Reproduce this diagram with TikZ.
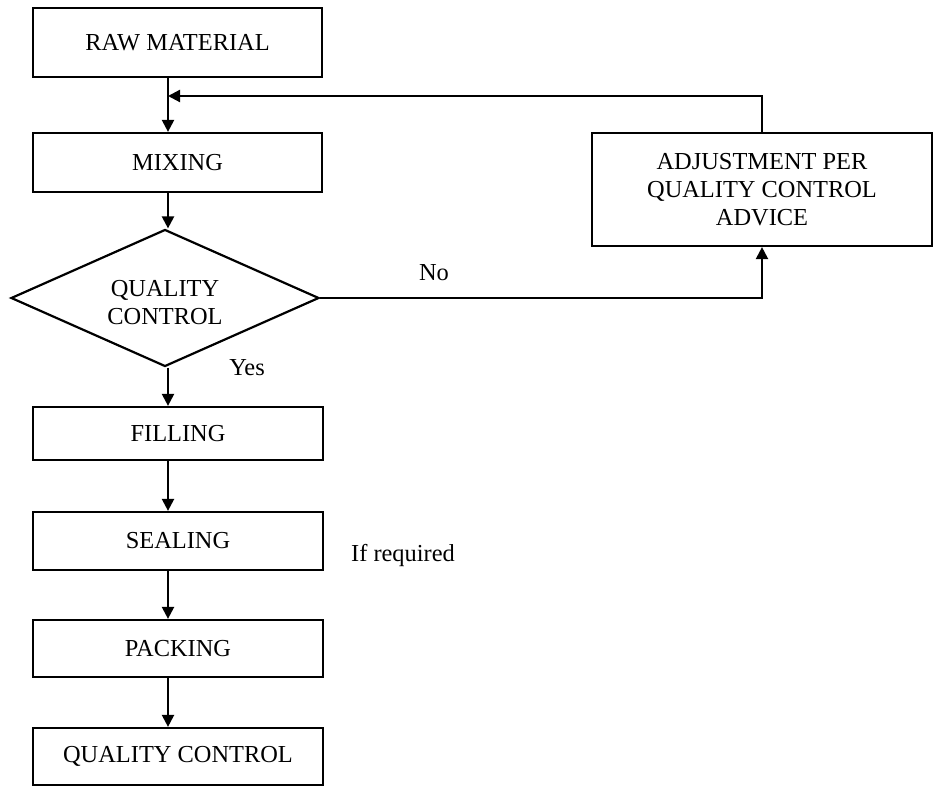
\documentclass[tikz,border=0pt]{standalone}
\usepackage{fontspec}
\setmainfont{Liberation Serif}
\usetikzlibrary{arrows.meta,shapes.geometric}
\begin{document}
\begin{tikzpicture}[x=0.5pt,y=-0.5pt,
  font=\fontsize{12.2}{14}\selectfont,
  line width=1.1pt,
  stepbox/.style={draw,rectangle,inner sep=0pt,align=center},
  decision/.style={draw,diamond,inner sep=0pt},
  arr/.style={-{Triangle[length=6pt,width=6pt]}},
  lbl/.style={inner sep=0pt,align=center}]
\useasboundingbox (0,0) rectangle (937,786);

% main column of process steps
\node[stepbox,minimum width=144.5pt,minimum height=34.5pt] (raw) at (177.5,42.5) {RAW MATERIAL};
\node[stepbox,minimum width=144.5pt,minimum height=29.5pt] (mix) at (177.5,162.5) {MIXING};
\node[decision,minimum width=154pt,minimum height=68.5pt] (qc1) at (165,298) {};
\node[lbl] (qc1text) at (165,303) {QUALITY\\CONTROL};
\node[stepbox,minimum width=145pt,minimum height=26.5pt] (fill) at (178,433.5) {FILLING};
\node[stepbox,minimum width=145pt,minimum height=29pt] (seal) at (178,541) {SEALING};
\node[stepbox,minimum width=145pt,minimum height=28.5pt] (pack) at (178,648.5) {PACKING};
\node[stepbox,minimum width=145pt,minimum height=28.5pt] (qc2) at (178,756.5) {QUALITY CONTROL};

% correction loop
\node[stepbox,minimum width=170pt,minimum height=56.5pt] (adj) at (762,189.5) {ADJUSTMENT PER\\QUALITY CONTROL\\ADVICE};

% helper coordinates
\coordinate (col) at (168,0);
\coordinate (feed) at (168,96);

% vertical flow
\draw[arr] (raw.south -| col) -- (mix.north -| col);
\draw[arr] (mix.south -| col) -- (qc1.north -| col);
\draw[arr] (qc1.south -| col) -- (fill.north -| col);
\draw[arr] (fill.south -| col) -- (seal.north -| col);
\draw[arr] (seal.south -| col) -- (pack.north -| col);
\draw[arr] (pack.south -| col) -- (qc2.north -| col);

% "No" branch and feedback
\draw[arr] (qc1.east) -| (adj.south);
\draw[arr] (adj.north) |- (feed);

% labels
\node[lbl] (no) at (434,273) {No};
\node[lbl] (yes) at (247,368) {Yes};
\node[lbl] (ifreq) at (403,556) {If required};
\end{tikzpicture}
\end{document}
